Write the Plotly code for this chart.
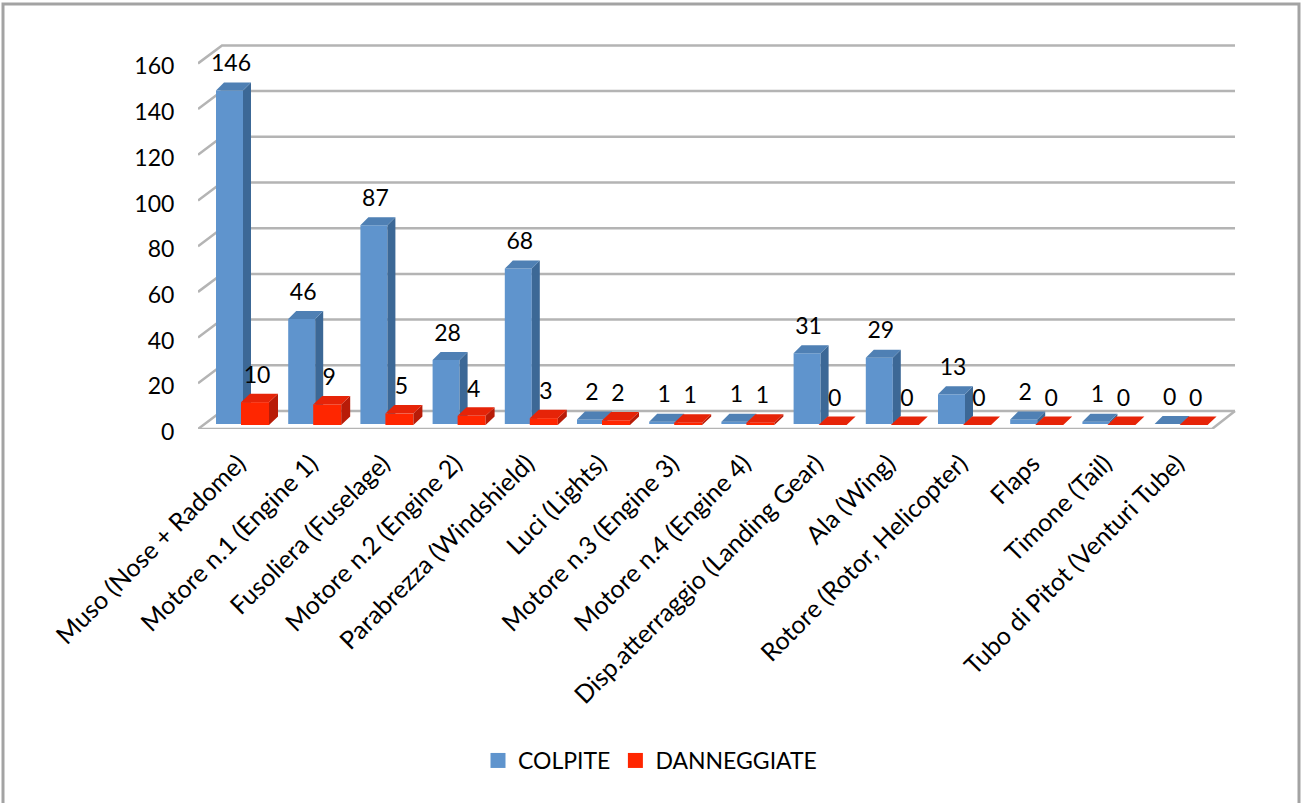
import plotly.graph_objects as go

categories = ["Muso (Nose + Radome)", "Motore n.1 (Engine 1)", "Fusoliera (Fuselage)",
              "Motore n.2 (Engine 2)", "Parabrezza (Windshield)", "Luci (Lights)",
              "Motore n.3 (Engine 3)", "Motore n.4 (Engine 4)", "Disp.atterraggio (Landing Gear)",
              "Ala (Wing)", "Rotore (Rotor, Helicopter)", "Flaps", "Timone (Tail)",
              "Tubo di Pitot (Venturi Tube)"]
colpite = [146, 46, 87, 28, 68, 2, 1, 1, 31, 29, 13, 2, 1, 0]
danneggiate = [10, 9, 5, 4, 3, 2, 1, 1, 0, 0, 0, 0, 0, 0]
y_ticks = [0, 20, 40, 60, 80, 100, 120, 140, 160]

FONT = "Lato"
W, H = 1301, 803
PL, PR, PT, PB = 198, 1240, 30, 429      # plot box in pixels
PX_CAT, PX_UNIT, X0 = 72.2, 2.285, 234   # scale
xr = [(PL - X0) / PX_CAT, (PR - X0) / PX_CAT]
yr = [0, (PB - PT) / PX_UNIT]
xpx = lambda p: p / PX_CAT
ypx = lambda p: p / PX_UNIT
idx = list(range(len(categories)))


def box(values, left_px, width_px, base_px, dx_px, dy_px):
    """side and top faces of pseudo-3D columns, in data units"""
    w, b, dx, dy = xpx(width_px), ypx(base_px), xpx(dx_px), ypx(dy_px)
    sx, sy, tx, ty = [], [], [], []
    for i, v in enumerate(values):
        x = i + xpx(left_px - X0)
        top = b + v
        sx += [x + w, x + w + dx, x + w + dx, x + w, None]
        sy += [b, b + dy, top + dy, top, None]
        tx += [x, x + w, x + w + dx, x + dx, None]
        ty += [top, top, top + dy, top + dy, None]
    return sx, sy, tx, ty


def series(name, values, left_px, width_px, base_px, dx_px, dy_px, front, side, top, ax):
    w = xpx(width_px)
    x = [i + xpx(left_px - X0) + w / 2 for i in idx]
    sx, sy, tx, ty = box(values, left_px, width_px, base_px, dx_px, dy_px)
    kw = dict(xaxis="x" + ax, yaxis="y" + ax)
    return [
        go.Bar(x=x, y=values, base=ypx(base_px), width=w, name=name, marker=dict(color=front, line_width=0),
               hoverinfo="skip", showlegend=False, **kw),
        go.Scatter(x=sx, y=sy, mode="lines", fill="toself", fillcolor=side, line=dict(width=0),
                   showlegend=False, hoverinfo="skip", cliponaxis=False, **kw),
        go.Scatter(x=tx, y=ty, mode="lines", fill="toself", fillcolor=top, line=dict(width=0),
                   showlegend=False, hoverinfo="skip", cliponaxis=False, **kw),
        go.Scatter(x=[None], y=[None], mode="markers", name=name, hoverinfo="skip",
                   marker=dict(symbol="square", size=15, color=front), **kw),
    ]


# walls
dxw, dyw = xpx(24), ypx(18)
xl, xb, xe = xr[0], xr[0] + dxw, xpx(1235 - X0)
gx, gy = [], []
for t in y_ticks:
    gx += [xl, xb, xe, None]
    gy += [t, t + dyw, t + dyw, None]
gx += [xl, xpx(1212 - X0), xe]
gy += [0, 0, dyw]
traces = [go.Scatter(x=gx, y=gy, mode="lines", line=dict(color="#b4b4b4", width=2.5),
                     showlegend=False, hoverinfo="skip", cliponaxis=False)]

traces += series("COLPITE", colpite, 216, 27, 5, 8, 8, "#5f94cd", "#3c6896", "#4f80b4", "2")
traces += series("DANNEGGIATE", danneggiate, 241, 28, 4, 9, 8.5, "#ff2600", "#b81c08", "#e62408", "3")

# data labels
lab_off = ypx(25)
traces.append(go.Scatter(x=[i + xpx(231 - X0) for i in idx], y=[v + ypx(5) + lab_off for v in colpite],
                         text=[str(v) for v in colpite], mode="text", textposition="middle center",
                         textfont=dict(family=FONT, size=23, color="black"), showlegend=False,
                         hoverinfo="skip", cliponaxis=False, xaxis="x3", yaxis="y3"))
traces.append(go.Scatter(x=[i + xpx(257 - X0) for i in idx], y=[v + ypx(4) + lab_off for v in danneggiate],
                         text=[str(v) for v in danneggiate], mode="text", textposition="middle center",
                         textfont=dict(family=FONT, size=23, color="black"), showlegend=False,
                         hoverinfo="skip", cliponaxis=False, xaxis="x3", yaxis="y3"))

fig = go.Figure(traces)
hidden = dict(visible=False, fixedrange=True)
fx = lambda p: (p - PL) / (PR - PL)
fy = lambda p: (PB - p) / (PB - PT)
fig.update_layout(
    width=W, height=H, autosize=False,
    margin=dict(l=PL, r=W - PR, t=PT, b=H - PB, pad=0),
    paper_bgcolor="white", plot_bgcolor="rgba(0,0,0,0)",
    font=dict(family=FONT, size=22, color="black"),
    barmode="overlay",
    xaxis=dict(range=xr, showgrid=False, zeroline=False, showline=False, ticks="",
               tickmode="array", tickvals=[i + 0.06 for i in idx], ticktext=categories,
               tickangle=-45, tickfont=dict(family=FONT, size=25), ticklabelstandoff=14, fixedrange=True),
    yaxis=dict(range=yr, showgrid=False, zeroline=False, showline=False, ticks="outside",
               ticklen=18, tickcolor="rgba(0,0,0,0)", tickmode="array", tickvals=y_ticks,
               tickfont=dict(family=FONT, size=23), ticklabelshift=3, fixedrange=True),
    xaxis2=dict(range=xr, overlaying="x", **hidden), yaxis2=dict(range=yr, overlaying="y", **hidden),
    xaxis3=dict(range=xr, overlaying="x", **hidden), yaxis3=dict(range=yr, overlaying="y", **hidden),
    legend=dict(orientation="h", x=fx(478), y=fy(739), xanchor="left", yanchor="top",
                font=dict(family=FONT, size=23), bgcolor="rgba(0,0,0,0)"),
    shapes=[dict(type="rect", xref="paper", yref="paper", x0=fx(3), x1=fx(1299), y0=fy(812), y1=fy(4),
                 line=dict(color="#a3a3a3", width=3), fillcolor="rgba(0,0,0,0)", layer="below")],
)
fig.write_html("out.html", post_script="document.body.style.margin='0';document.body.style.overflow='hidden';",
               config={"displayModeBar": False})
